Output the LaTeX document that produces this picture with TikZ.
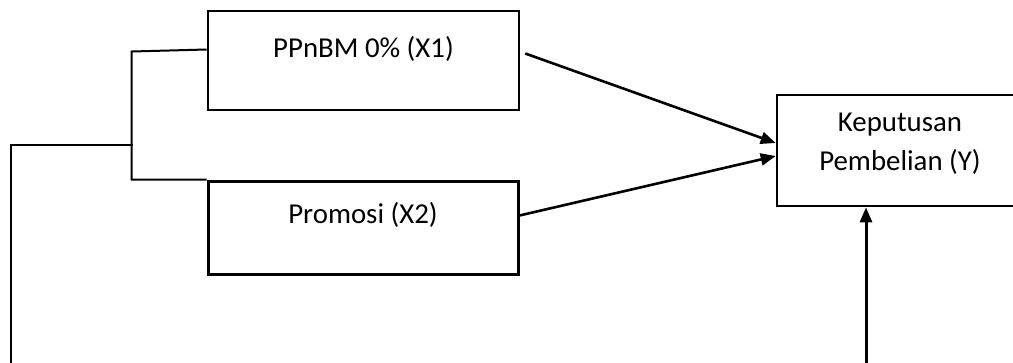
\documentclass[tikz,border=0pt]{standalone}
\usepackage{fontspec}
\setmainfont{Carlito}
\usetikzlibrary{arrows.meta,positioning}
\newcommand{\px}{0.025cm}
\newcommand{\boxline}{2.6*\px}

\begin{document}
\begin{tikzpicture}[x=\px,y=-\px,
  varbox/.style={draw,line width=\boxline,inner sep=0pt},
  lbl/.style={font=\fontsize{20.5pt}{27.7pt}\selectfont,inner sep=0pt,align=center},
  link/.style={line width=2*\px},
  effect/.style={line width=2.6*\px,-{Triangle[length=15*\px,width=12*\px]}}]
\useasboundingbox (0,0) rectangle (1013,362);
\clip (0,0) rectangle (1013,362);
%boxes
\node[varbox, minimum width=311*\px, minimum height=99*\px] (x1) at (363.5,60.5) {};
\node[varbox, line width=3*\px, minimum width=310*\px, minimum height=93*\px] (x2) at (363,227.5) {};
\node[varbox, minimum width=306*\px, minimum height=111*\px] (y) at (930,150.5) {};
\node[lbl, anchor=base] (x1txt) at ([yshift=-48*\px]x1.north) {PPnBM 0\% (X1)};
\node[lbl, anchor=base] (x2txt) at ([yshift=-44*\px]x2.north) {Promosi (X2)};
\node[lbl, anchor=north] (ytxt) at ([xshift=-30*\px,yshift=-19*\px]y.north) {Keputusan\\Pembelian (Y)};
%bracket
\coordinate (fork) at (133,145);
\coordinate (loopend) at (11,370);
\coordinate (ybase) at (866,370);
\draw[link] ([yshift=11*\px]x1.west) -- ++(-75,2) |- (x2.north west);
\draw[link] (fork) -| (loopend);
%arrows
\draw[effect] ([xshift=5*\px,yshift=7*\px]x1.east) -- ([yshift=7.5*\px]y.west);
\draw[effect] ([yshift=12*\px]x2.east) -- ([yshift=-5.5*\px]y.west);
\draw[effect, line width=3*\px] (ybase) -- (ybase |- y.south);
\end{tikzpicture}
\end{document}
